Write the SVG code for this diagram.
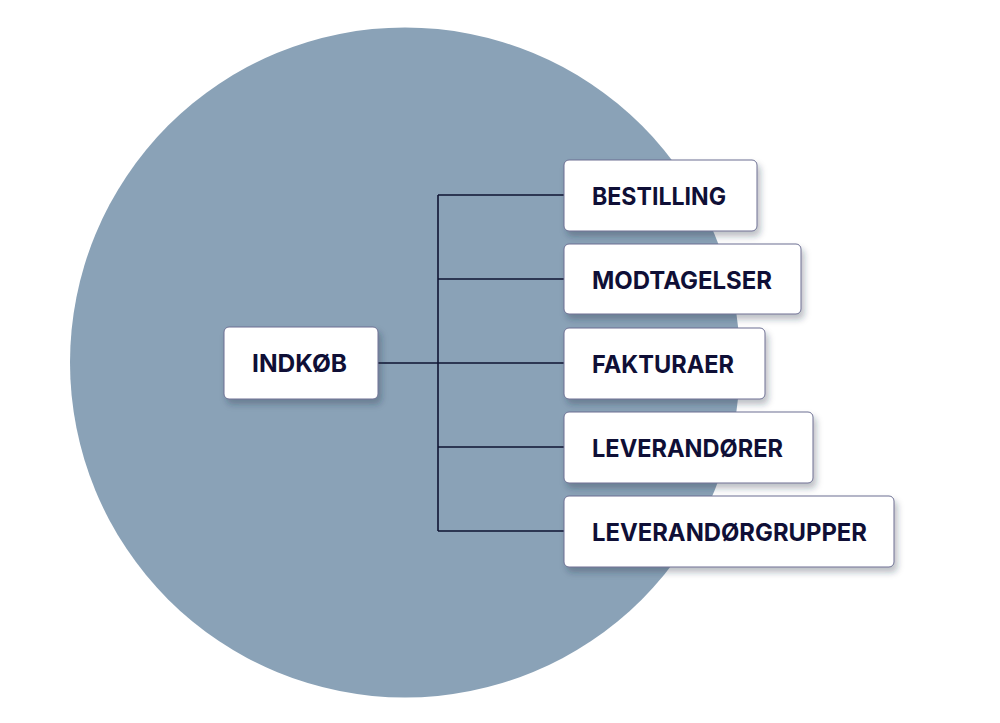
<svg xmlns="http://www.w3.org/2000/svg" width="1000" height="723" viewBox="0 0 1000 723">
  <defs>
    <filter id="sh" x="-20%" y="-30%" width="140%" height="170%">
      <feDropShadow dx="3" dy="5" stdDeviation="3" flood-color="#1a2540" flood-opacity="0.3"/>
    </filter>
  </defs>
  <style>
    .box { fill: #ffffff; stroke: #6c6f92; stroke-width: 1; filter: url(#sh); }
    .lbl { font-family: Inter, "Open Sans", "Liberation Sans", sans-serif; font-weight: 700; font-size: 24.5px; fill: #0f0f36; }
    .conn { stroke: #0f1433; stroke-width: 1.6; fill: none; }
  </style>
  <rect width="1000" height="723" fill="#ffffff"/>
  <circle cx="405" cy="362.5" r="335" fill="#8aa2b7"/>
  <g id="connectors">
    <path class="conn" d="M378 363 H438 M438 195 V531 M438 195 H564 M438 279 H564 M438 363 H564 M438 447 H564 M438 531 H564"/>
  </g>
  <g id="indkob">
    <rect class="box" x="224" y="327" width="154" height="72" rx="5"/>
    <text class="lbl" x="252" y="372" textLength="95" lengthAdjust="spacingAndGlyphs">INDKØB</text>
  </g>
  <g id="bestilling">
    <rect class="box" x="564" y="160" width="193" height="71" rx="5"/>
    <text class="lbl" x="592" y="204.5" textLength="134" lengthAdjust="spacingAndGlyphs">BESTILLING</text>
  </g>
  <g id="modtagelser">
    <rect class="box" x="564" y="244" width="237" height="70" rx="5"/>
    <text class="lbl" x="592" y="288.5" textLength="180" lengthAdjust="spacingAndGlyphs">MODTAGELSER</text>
  </g>
  <g id="fakturaer">
    <rect class="box" x="564" y="328" width="201" height="71" rx="5"/>
    <text class="lbl" x="592" y="373" textLength="142" lengthAdjust="spacingAndGlyphs">FAKTURAER</text>
  </g>
  <g id="leverandorer">
    <rect class="box" x="564" y="412" width="249" height="71" rx="5"/>
    <text class="lbl" x="592" y="457" textLength="191" lengthAdjust="spacingAndGlyphs">LEVERANDØRER</text>
  </g>
  <g id="leverandorgrupper">
    <rect class="box" x="564" y="496" width="330" height="71" rx="5"/>
    <text class="lbl" x="592" y="541" textLength="275" lengthAdjust="spacingAndGlyphs">LEVERANDØRGRUPPER</text>
  </g>
</svg>
